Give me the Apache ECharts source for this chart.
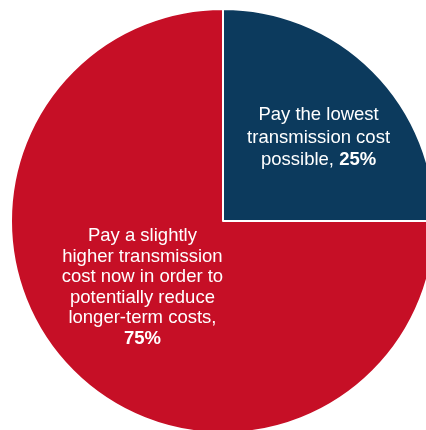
<!DOCTYPE html>
<html>
<head>
<meta charset="utf-8">
<script src="https://cdn.jsdelivr.net/npm/echarts@6/dist/echarts.min.js"></script>
<style>
  html, body { margin: 0; padding: 0; background: #ffffff; }
  #chart { width: 426px; height: 430px; }
</style>
</head>
<body>
<div id="chart"></div>
<script>
// Survey answers and their shares (%)
const answers = [
  'Pay the lowest\ntransmission cost\npossible',
  'Pay a slightly\nhigher transmission\ncost now in order to\npotentially reduce\nlonger-term costs'
];
const shares = [25, 75];
const sliceColors = ['#0c3a5d', '#c60f26'];

// Fine placement of each slice label relative to its default inside spot
const labelShift = [[18.5, -6.5], [-3.5, -10.5]];
const labelLineHeight = [22.5, 20.5];
// The percentage sits on the same line for the small slice, own line for the big one
const valueBreak = [' ', '\n'];

const FONT = 'Liberation Sans, Arial, sans-serif';
const FONT_SIZE = 18.5;

const chart = echarts.init(document.getElementById('chart'), null, { renderer: 'canvas' });

chart.setOption({
  animation: false,
  backgroundColor: '#ffffff',
  series: [{
    type: 'pie',
    center: [223, 221],
    radius: [0, 212],
    startAngle: 90,
    clockwise: true,
    silent: true,
    itemStyle: { borderColor: '#ffffff', borderWidth: 2 },
    label: {
      show: true,
      position: 'inside',
      color: '#ffffff',
      fontFamily: FONT,
      fontSize: FONT_SIZE,
      align: 'center',
      formatter: p => `{n|${p.name},}${valueBreak[p.dataIndex]}{v|${p.value}%}`
    },
    labelLine: { show: false },
    labelLayout: p => ({ dx: labelShift[p.dataIndex][0], dy: labelShift[p.dataIndex][1] }),
    data: answers.map((name, i) => ({
      name: name,
      value: shares[i],
      itemStyle: { color: sliceColors[i] },
      label: {
        lineHeight: labelLineHeight[i],
        rich: {
          n: { color: '#ffffff', fontSize: FONT_SIZE, lineHeight: labelLineHeight[i], fontFamily: FONT },
          v: { color: '#ffffff', fontSize: FONT_SIZE, lineHeight: labelLineHeight[i], fontWeight: 'bold', fontFamily: FONT }
        }
      }
    }))
  }]
});
</script>
</body>
</html>
